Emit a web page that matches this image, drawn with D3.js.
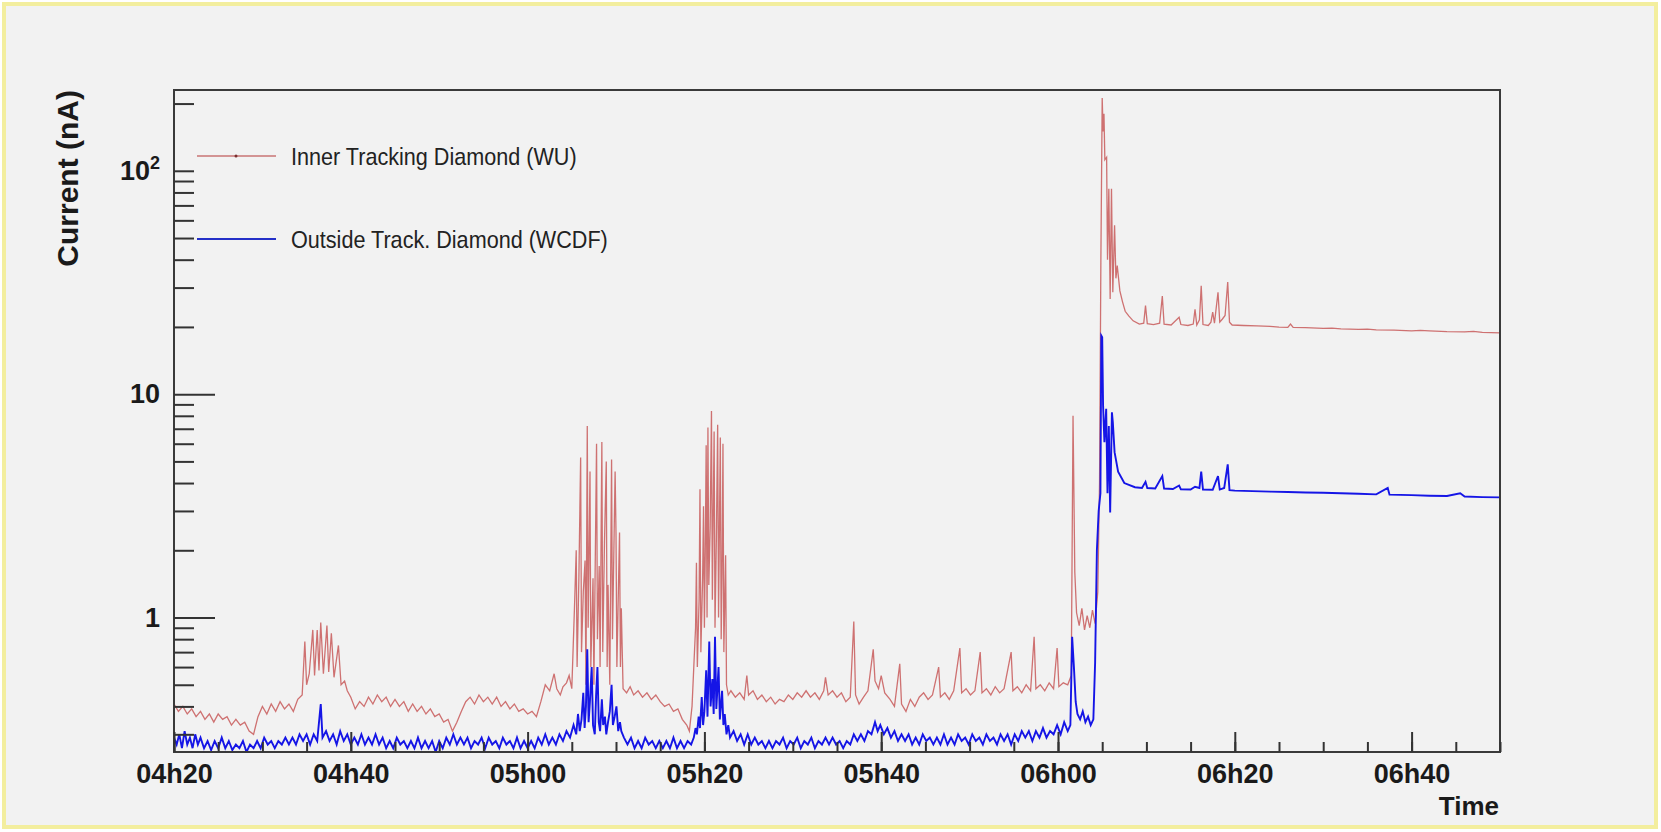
<!DOCTYPE html>
<html>
<head>
<meta charset="utf-8">
<script src="https://cdn.jsdelivr.net/npm/d3@7"></script>
<style>
    html, body { margin: 0; padding: 0; background: #ffffff; }
    svg { display: block; }
    .frame { fill: none; stroke: #3a3a3a; stroke-width: 2; }
    .axis line { stroke: #333333; stroke-width: 2; }
    .axis path { display: none; }
    .axis text, .lbl {
        font-family: "Liberation Sans", Arial, Helvetica, sans-serif;
        font-weight: bold;
        font-size: 27px;
        fill: #1a1a1a;
    }
    .legend-text {
        font-family: "Liberation Sans", Arial, Helvetica, sans-serif;
        font-size: 24px;
        fill: #222222;
    }
    .inner-line { fill: none; stroke: #c85a5a; stroke-width: 1.3; stroke-opacity: 0.85; }
    .outer-line { fill: none; stroke: #1515e6; stroke-width: 1.9; }
</style>
</head>
<body>
<svg width="1661" height="832"></svg>
<script>
// Inner Tracking Diamond (WU): [minutes after 04h20, current in nA]
var innerCurrent = [
    [0, 0.41], [0.5, 0.38], [1, 0.40], [1.5, 0.37], [2, 0.39], [2.5, 0.36], [3, 0.38], [3.5, 0.35],
    [4, 0.37], [4.5, 0.34], [5, 0.37], [5.5, 0.35], [6, 0.36], [6.5, 0.33], [7, 0.35], [7.5, 0.33],
    [8, 0.34], [8.5, 0.31], [9, 0.30], [9.5, 0.36], [10, 0.40], [10.5, 0.37], [11, 0.41], [11.5, 0.38],
    [12, 0.42], [12.5, 0.39], [13, 0.41], [13.5, 0.38], [14, 0.43], [14.5, 0.45],
    [14.8, 0.78], [15.0, 0.50], [15.3, 0.56], [15.7, 0.88], [15.9, 0.55], [16.2, 0.88], [16.4, 0.58],
    [16.6, 0.95], [16.9, 0.56], [17.3, 0.92], [17.5, 0.57], [17.8, 0.85], [18.1, 0.54], [18.6, 0.75],
    [18.9, 0.50], [19.3, 0.52], [19.6, 0.47],
    [20, 0.44], [20.5, 0.39], [21, 0.42], [21.5, 0.40], [22, 0.44], [22.5, 0.41], [23, 0.45], [23.5, 0.42],
    [24, 0.44], [24.5, 0.40], [25, 0.43], [25.5, 0.40], [26, 0.42], [26.5, 0.38], [27, 0.41], [27.5, 0.38],
    [28, 0.40], [28.5, 0.37], [29, 0.39], [29.5, 0.36], [30, 0.37], [30.5, 0.34], [31, 0.35], [31.5, 0.31],
    [32, 0.34], [32.5, 0.38], [33, 0.42], [33.5, 0.44], [34, 0.41], [34.5, 0.45], [35, 0.42], [35.5, 0.44],
    [36, 0.41], [36.5, 0.44], [37, 0.40], [37.5, 0.42], [38, 0.39], [38.5, 0.41], [39, 0.38], [39.5, 0.39],
    [40, 0.37], [40.5, 0.38], [41, 0.36], [41.5, 0.42], [42, 0.50], [42.5, 0.47], [43, 0.56], [43.3, 0.48],
    [43.7, 0.45], [44, 0.49], [44.4, 0.51],
    // first burst
    [44.7, 0.55], [45.0, 0.48], [45.3, 1.1], [45.5, 2.0], [45.6, 0.6], [45.8, 1.5], [46.0, 5.2], [46.1, 0.7],
    [46.3, 1.3], [46.5, 1.8], [46.6, 0.5], [46.75, 7.2], [46.85, 0.9], [47.06, 4.5], [47.15, 0.6], [47.4, 1.5],
    [47.5, 0.5], [47.8, 6.0], [47.9, 0.8], [48.1, 1.7], [48.2, 0.6], [48.4, 6.1], [48.5, 0.7], [48.7, 2.2],
    [48.9, 5.0], [49.0, 0.6], [49.1, 1.4], [49.3, 0.5], [49.5, 5.1], [49.6, 0.8], [49.9, 4.5], [50.0, 2.4],
    [50.1, 0.6], [50.4, 2.4], [50.5, 0.6], [50.6, 1.1], [50.8, 0.48],
    [51.2, 0.46], [51.6, 0.49], [52, 0.45], [52.5, 0.47], [53, 0.44], [53.5, 0.46], [54, 0.43], [54.5, 0.45],
    [55, 0.42], [55.5, 0.40], [56, 0.41], [56.5, 0.38], [57, 0.39], [57.5, 0.35], [58, 0.33], [58.3, 0.31],
    [58.6, 0.40],
    // second burst
    [58.8, 0.6], [59.0, 0.9], [59.1, 1.76], [59.2, 0.6], [59.4, 1.2], [59.5, 3.75], [59.6, 0.7], [59.8, 1.5],
    [59.9, 3.15], [60.0, 0.9], [60.1, 2.0], [60.2, 5.9], [60.3, 1.0], [60.4, 7.1], [60.5, 1.4], [60.65, 2.5],
    [60.8, 8.4], [60.9, 1.2], [61.0, 3.0], [61.1, 6.8], [61.2, 0.9], [61.35, 2.2], [61.5, 7.3], [61.6, 1.0],
    [61.8, 6.4], [61.9, 0.8], [62.0, 1.6], [62.1, 6.0], [62.2, 0.7], [62.4, 1.9], [62.5, 0.5], [62.7, 0.45],
    [63, 0.47], [63.5, 0.44], [64, 0.46], [64.5, 0.43], [64.8, 0.55], [65, 0.45], [65.5, 0.47], [66, 0.43],
    [66.5, 0.45], [67, 0.42], [67.5, 0.44], [68, 0.41], [68.5, 0.43], [69, 0.42], [69.5, 0.45], [70, 0.43],
    [70.5, 0.46], [71, 0.44], [71.5, 0.47], [72, 0.44], [72.5, 0.46], [73, 0.43], [73.5, 0.47], [73.7, 0.54],
    [74, 0.45], [74.5, 0.47], [75, 0.44], [75.5, 0.46], [76, 0.42], [76.5, 0.44], [76.9, 0.96], [77.1, 0.45],
    [77.5, 0.41], [78, 0.44], [78.5, 0.47], [79.1, 0.72], [79.3, 0.52], [79.7, 0.48], [80, 0.55], [80.4, 0.46],
    [81, 0.43], [81.5, 0.40], [82.1, 0.62], [82.3, 0.41], [82.8, 0.38], [83.3, 0.43], [83.8, 0.40], [84.3, 0.44],
    [84.8, 0.46], [85.3, 0.43], [85.8, 0.45], [86.5, 0.60], [86.7, 0.44], [87.2, 0.46], [87.7, 0.43], [88.2, 0.47],
    [88.9, 0.73], [89.1, 0.46], [89.6, 0.48], [90.1, 0.45], [90.6, 0.47], [91.2, 0.70], [91.4, 0.46], [91.9, 0.48],
    [92.4, 0.45], [92.9, 0.49], [93.4, 0.46], [93.9, 0.48], [94.7, 0.70], [94.9, 0.47], [95.4, 0.49], [95.9, 0.46],
    [96.4, 0.50], [96.9, 0.47], [97.3, 0.82], [97.5, 0.48], [98, 0.50], [98.5, 0.47], [99, 0.51], [99.5, 0.48],
    [99.9, 0.73], [100.1, 0.49], [100.6, 0.51], [101.1, 0.50], [101.5, 0.55],
    // beam incident
    [101.7, 8.0], [101.9, 1.6], [102.1, 1.05], [102.4, 0.92], [102.7, 1.1], [103.0, 0.88], [103.3, 1.02],
    [103.6, 0.90], [103.9, 1.08], [104.2, 0.94], [104.5, 1.3], [104.7, 4.0], [104.85, 40], [105.0, 212],
    [105.1, 150], [105.2, 180], [105.3, 112], [105.5, 115], [105.6, 40], [105.75, 83], [105.9, 26.7],
    [106.05, 83], [106.2, 28.6], [106.4, 57], [106.55, 33], [106.7, 37.6], [107.0, 29], [107.3, 25.9],
    [107.6, 23.5], [108.0, 22.4], [108.5, 21.3], [109.2, 20.6], [109.7, 20.8], [109.9, 24.9], [110.1, 20.7],
    [110.8, 20.5], [111.5, 20.8], [111.8, 27.5], [112.0, 20.6], [112.8, 20.4], [113.7, 22.1], [113.9, 20.5],
    [114.7, 20.3], [115.3, 20.6], [115.5, 24.0], [115.7, 20.4], [116.0, 21.5], [116.2, 30.6], [116.4, 20.5],
    [117.0, 20.3], [117.3, 21.0], [117.5, 23.3], [117.7, 20.8], [118.1, 28.6], [118.3, 21.0], [118.6, 21.7],
    [118.9, 22.5], [119.2, 31.8], [119.4, 21.0], [119.7, 20.4], [121, 20.3], [122.5, 20.2], [124, 20.1],
    [125, 19.95], [126, 19.9], [126.3, 20.6], [126.6, 19.9], [128, 19.85], [130, 19.7], [131, 19.75],
    [132, 19.6], [134, 19.5], [135, 19.55], [136, 19.4], [138, 19.35], [140, 19.2], [141, 19.3], [142, 19.2],
    [144, 19.05], [146, 19.0], [147, 19.1], [148, 18.9], [150, 18.8]
];

// Outside Track. Diamond (WCDF): [minutes after 04h20, current in nA]
var outerCurrent = [
    [0, 0.29], [0.3, 0.27], [0.6, 0.30], [0.9, 0.26], [1.2, 0.31], [1.5, 0.27], [1.8, 0.29], [2.1, 0.26],
    [2.4, 0.30], [2.7, 0.27], [3, 0.29], [3.4, 0.26], [3.8, 0.28], [4.2, 0.255], [4.6, 0.28], [5, 0.26],
    [5.4, 0.29], [5.8, 0.26], [6.2, 0.28], [6.6, 0.255], [7, 0.27], [7.4, 0.26], [7.8, 0.28], [8.2, 0.25],
    [8.6, 0.27], [9, 0.26], [9.4, 0.28], [9.8, 0.26], [10.2, 0.29], [10.6, 0.27], [11, 0.28], [11.4, 0.26],
    [11.8, 0.28], [12.2, 0.27], [12.6, 0.29], [13, 0.27], [13.4, 0.29], [13.8, 0.27], [14.2, 0.30], [14.6, 0.28],
    [15, 0.30], [15.4, 0.27], [15.8, 0.30], [16.2, 0.28], [16.6, 0.41], [16.8, 0.29], [17.2, 0.31], [17.6, 0.28],
    [18, 0.30], [18.4, 0.27], [18.8, 0.31], [19.2, 0.28], [19.6, 0.30], [20, 0.27], [20.4, 0.29], [20.8, 0.27],
    [21.2, 0.30], [21.6, 0.27], [22, 0.29], [22.4, 0.27], [22.8, 0.30], [23.2, 0.27], [23.6, 0.29], [24, 0.26],
    [24.4, 0.28], [24.8, 0.26], [25.2, 0.29], [25.6, 0.27], [26, 0.28], [26.4, 0.26], [26.8, 0.28], [27.2, 0.26],
    [27.6, 0.29], [28, 0.26], [28.4, 0.28], [28.8, 0.26], [29.2, 0.28], [29.6, 0.25], [30, 0.28], [30.4, 0.26],
    [30.8, 0.29], [31.2, 0.27], [31.6, 0.30], [32, 0.27], [32.4, 0.29], [32.8, 0.27], [33.2, 0.29], [33.6, 0.26],
    [34, 0.28], [34.4, 0.27], [34.8, 0.29], [35.2, 0.26], [35.6, 0.29], [36, 0.27], [36.4, 0.28], [36.8, 0.26],
    [37.2, 0.29], [37.6, 0.27], [38, 0.28], [38.4, 0.26], [38.8, 0.29], [39.2, 0.26], [39.6, 0.28], [40, 0.26],
    [40.4, 0.28], [40.8, 0.26], [41.2, 0.29], [41.6, 0.27], [42, 0.30], [42.4, 0.27], [42.8, 0.29], [43.2, 0.27],
    [43.6, 0.30], [44, 0.28], [44.4, 0.31], [44.8, 0.29],
    // first burst
    [45.2, 0.33], [45.5, 0.30], [45.7, 0.37], [45.9, 0.31], [46.1, 0.35], [46.3, 0.46], [46.45, 0.32],
    [46.6, 0.40], [46.75, 0.72], [46.9, 0.34], [47.05, 0.42], [47.25, 0.60], [47.4, 0.33], [47.6, 0.30],
    [47.75, 0.45], [47.9, 0.60], [48.05, 0.34], [48.2, 0.31], [48.4, 0.43], [48.55, 0.33], [48.75, 0.36],
    [48.9, 0.30], [49.1, 0.34], [49.3, 0.38], [49.5, 0.50], [49.65, 0.33], [49.85, 0.36], [50.05, 0.40],
    [50.25, 0.31], [50.45, 0.34], [50.6, 0.31], [50.9, 0.29],
    [51.3, 0.27], [51.7, 0.29], [52.1, 0.26], [52.5, 0.28], [52.9, 0.26], [53.3, 0.29], [53.7, 0.27], [54.1, 0.28],
    [54.5, 0.26], [54.9, 0.28], [55.3, 0.26], [55.7, 0.28], [56.1, 0.26], [56.5, 0.29], [56.9, 0.26], [57.3, 0.28],
    [57.7, 0.26], [58.1, 0.28], [58.5, 0.27],
    // second burst
    [58.8, 0.29], [59.0, 0.32], [59.15, 0.30], [59.35, 0.36], [59.5, 0.32], [59.7, 0.44], [59.85, 0.33],
    [60.0, 0.38], [60.2, 0.58], [60.35, 0.36], [60.55, 0.78], [60.7, 0.40], [60.9, 0.53], [61.05, 0.37],
    [61.2, 0.82], [61.35, 0.39], [61.6, 0.60], [61.75, 0.35], [62.0, 0.47], [62.15, 0.33], [62.3, 0.37],
    [62.5, 0.30], [62.7, 0.33], [62.9, 0.29],
    [63.3, 0.31], [63.7, 0.28], [64.1, 0.30], [64.5, 0.27], [64.9, 0.30], [65.3, 0.27], [65.7, 0.29], [66.1, 0.27],
    [66.5, 0.28], [66.9, 0.26], [67.3, 0.28], [67.7, 0.26], [68.1, 0.28], [68.5, 0.27], [68.9, 0.29], [69.3, 0.26],
    [69.7, 0.28], [70.1, 0.27], [70.5, 0.29], [70.9, 0.26], [71.3, 0.28], [71.7, 0.27], [72.1, 0.29], [72.5, 0.26],
    [72.9, 0.28], [73.3, 0.27], [73.7, 0.29], [74.1, 0.27], [74.5, 0.29], [74.9, 0.27], [75.3, 0.28], [75.7, 0.26],
    [76.1, 0.28], [76.5, 0.27], [76.9, 0.30], [77.3, 0.28], [77.7, 0.30], [78.1, 0.28], [78.5, 0.31], [78.9, 0.30],
    [79.3, 0.34], [79.6, 0.31], [79.9, 0.33], [80.3, 0.30], [80.7, 0.32], [81.1, 0.29], [81.5, 0.31], [81.9, 0.28],
    [82.3, 0.30], [82.7, 0.28], [83.1, 0.30], [83.5, 0.27], [83.9, 0.29], [84.3, 0.27], [84.7, 0.30], [85.1, 0.28],
    [85.5, 0.29], [85.9, 0.27], [86.3, 0.29], [86.7, 0.27], [87.1, 0.30], [87.5, 0.27], [87.9, 0.29], [88.3, 0.27],
    [88.7, 0.30], [89.1, 0.28], [89.5, 0.29], [89.9, 0.27], [90.3, 0.30], [90.7, 0.28], [91.1, 0.29], [91.5, 0.27],
    [91.9, 0.30], [92.3, 0.28], [92.7, 0.29], [93.1, 0.27], [93.5, 0.30], [93.9, 0.28], [94.3, 0.30], [94.7, 0.27],
    [95.1, 0.30], [95.5, 0.28], [95.9, 0.31], [96.3, 0.29], [96.7, 0.31], [97.1, 0.28], [97.5, 0.31], [97.9, 0.29],
    [98.3, 0.32], [98.7, 0.29], [99.1, 0.31], [99.5, 0.30], [99.9, 0.33], [100.3, 0.30], [100.7, 0.34], [101.1, 0.31],
    [101.4, 0.33],
    // beam incident
    [101.6, 0.82], [101.8, 0.60], [102.0, 0.42], [102.2, 0.37], [102.5, 0.35], [102.8, 0.38], [103.1, 0.34],
    [103.4, 0.36], [103.7, 0.33], [104.0, 0.35], [104.2, 0.63], [104.4, 2.0], [104.6, 3.0], [104.8, 3.6],
    [104.9, 18.3], [105.0, 18.0], [105.1, 8.9], [105.25, 6.1], [105.45, 8.6], [105.6, 3.6], [105.75, 7.2],
    [105.9, 2.95], [106.1, 8.3], [106.2, 7.5], [106.4, 5.5], [106.8, 4.5], [107.5, 4.0], [108.7, 3.83],
    [109.5, 3.80], [109.9, 4.05], [110.1, 3.80], [111, 3.78], [111.8, 4.3], [112.0, 3.78], [113, 3.76],
    [113.7, 3.9], [113.9, 3.75], [115, 3.74], [115.5, 3.85], [116.0, 3.80], [116.2, 4.5], [116.4, 3.74],
    [117.5, 3.73], [118.1, 4.3], [118.3, 3.74], [118.8, 3.80], [119.2, 4.85], [119.4, 3.72], [120, 3.70],
    [122, 3.68], [124, 3.66], [126, 3.65], [128, 3.63], [130, 3.62], [132, 3.60], [134, 3.58], [136, 3.56],
    [137.3, 3.8], [137.5, 3.55], [140, 3.53], [142, 3.51], [144, 3.50], [145.5, 3.6], [146, 3.48], [148, 3.46],
    [150, 3.45]
];

// Axis settings
var yMinorTicks = [0.3, 0.4, 0.5, 0.6, 0.7, 0.8, 0.9, 2, 3, 4, 5, 6, 7, 8, 9,
    20, 30, 40, 50, 60, 70, 80, 90, 100, 200];
var yMajorTicks = [1, 10];
var seriesLabels = ["Inner Tracking Diamond (WU)", "Outside Track. Diamond (WCDF)"];

var svg = d3.select("svg"),
    plotLeft = 174, plotRight = 1500, plotTop = 90, plotBottom = 752;

var t0 = new Date(2012, 0, 1, 4, 20),
    t1 = new Date(2012, 0, 1, 6, 50);

function toDate(m) {
    return new Date(t0.getTime() + m * 60000);
}

var xScale = d3.scaleTime().domain([t0, t1]).range([plotLeft, plotRight]),
    yScale = d3.scaleLog().domain([0.25, 230]).range([plotBottom, plotTop]);

// Canvas with yellow border
svg.append("rect")
    .attr("x", 4).attr("y", 4).attr("width", 1652).attr("height", 823)
    .attr("fill", "#f2f2f2")
    .attr("stroke", "#f3ee9e")
    .attr("stroke-width", 4);

svg.append("clipPath").attr("id", "plot-clip")
    .append("rect")
    .attr("x", plotLeft).attr("y", plotTop)
    .attr("width", plotRight - plotLeft).attr("height", plotBottom - plotTop);

// Lines
var line = d3.line()
    .x(function (d) { return xScale(toDate(d[0])); })
    .y(function (d) { return yScale(d[1]); });

svg.append("path")
    .datum(innerCurrent)
    .attr("class", "inner-line")
    .attr("clip-path", "url(#plot-clip)")
    .attr("d", line);

svg.append("path")
    .datum(outerCurrent)
    .attr("class", "outer-line")
    .attr("clip-path", "url(#plot-clip)")
    .attr("d", line);

// Frame
svg.append("rect")
    .attr("class", "frame")
    .attr("x", plotLeft).attr("y", plotTop)
    .attr("width", plotRight - plotLeft).attr("height", plotBottom - plotTop);

// X axis: major ticks every 20 min, minor every 5 min
svg.append("g")
    .attr("class", "axis")
    .attr("transform", "translate(0," + plotBottom + ")")
    .call(d3.axisBottom(xScale)
        .ticks(d3.timeMinute.every(5))
        .tickSize(-10)
        .tickFormat(""));

svg.append("g")
    .attr("class", "axis")
    .attr("transform", "translate(0," + plotBottom + ")")
    .call(d3.axisBottom(xScale)
        .ticks(d3.timeMinute.every(20))
        .tickSize(-20)
        .tickPadding(12)
        .tickFormat(d3.timeFormat("%Hh%M")));

// Y axis
svg.append("g")
    .attr("class", "axis")
    .attr("transform", "translate(" + plotLeft + ",0)")
    .call(d3.axisLeft(yScale)
        .tickValues(yMinorTicks)
        .tickSize(-20)
        .tickFormat(""));

svg.append("g")
    .attr("class", "axis")
    .attr("transform", "translate(" + plotLeft + ",0)")
    .call(d3.axisLeft(yScale)
        .tickValues(yMajorTicks)
        .tickSize(-41)
        .tickPadding(14)
        .tickFormat(d3.format("d")));

// 10^2 label
var hundred = svg.append("text")
    .attr("class", "lbl")
    .attr("text-anchor", "end")
    .attr("x", plotLeft - 14)
    .attr("y", yScale(100) + 9);
hundred.append("tspan").text("10");
hundred.append("tspan")
    .attr("dy", -11)
    .style("font-size", "18px")
    .text("2");

// Axis titles
svg.append("text")
    .attr("class", "lbl")
    .attr("text-anchor", "end")
    .attr("transform", "translate(78," + plotTop + ") rotate(-90)")
    .style("font-size", "30px")
    .text("Current (nA)");

svg.append("text")
    .attr("class", "lbl")
    .attr("text-anchor", "end")
    .attr("x", plotRight - 1)
    .attr("y", 815)
    .style("font-size", "26px")
    .text("Time");

// Legend
var legendY = [156, 239],
    legendColors = ["#c87474", "#2430c8"];

seriesLabels.forEach(function (label, i) {
    svg.append("line")
        .attr("x1", 197).attr("x2", 276)
        .attr("y1", legendY[i]).attr("y2", legendY[i])
        .attr("stroke", legendColors[i])
        .attr("stroke-width", i === 0 ? 1.5 : 2.2);
    svg.append("text")
        .attr("class", "legend-text")
        .attr("transform", "translate(291," + (legendY[i] + 9) + ") scale(0.9,1)")
        .text(label);
});

svg.append("circle")
    .attr("cx", 236).attr("cy", legendY[0]).attr("r", 1.5)
    .attr("fill", "#7a3030");
</script>
</body>
</html>
